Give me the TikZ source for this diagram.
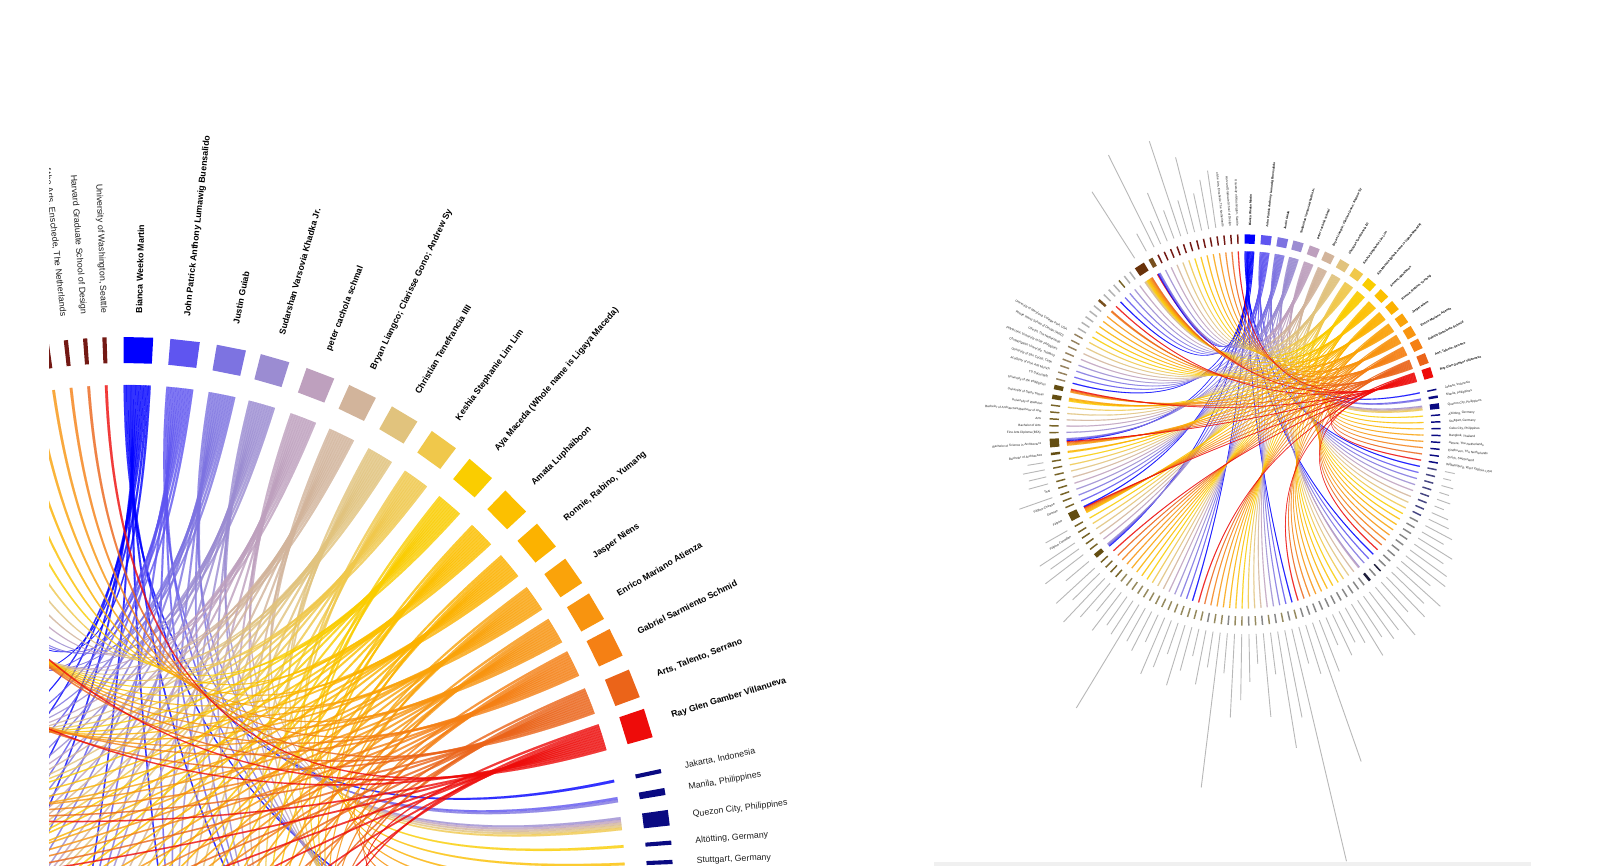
\documentclass[tikz,border=0pt]{standalone}
\usepackage{fontspec}
\setmainfont{Liberation Sans}
\definecolor{pc0}{RGB}{0,0,255}
\definecolor{pc1}{RGB}{95,85,240}
\definecolor{pc2}{RGB}{125,115,225}
\definecolor{pc3}{RGB}{155,140,210}
\definecolor{pc4}{RGB}{190,160,190}
\definecolor{pc5}{RGB}{210,180,155}
\definecolor{pc6}{RGB}{225,195,125}
\definecolor{pc7}{RGB}{240,200,75}
\definecolor{pc8}{RGB}{250,205,0}
\definecolor{pc9}{RGB}{252,192,0}
\definecolor{pc10}{RGB}{252,178,0}
\definecolor{pc11}{RGB}{250,163,10}
\definecolor{pc12}{RGB}{248,148,15}
\definecolor{pc13}{RGB}{245,128,20}
\definecolor{pc14}{RGB}{235,100,25}
\definecolor{pc15}{RGB}{238,12,10}
\definecolor{rloc}{RGB}{10,10,130}
\definecolor{ryr}{RGB}{70,70,130}
\definecolor{rgr}{RGB}{135,135,135}
\definecolor{rdk}{RGB}{30,30,60}
\definecolor{rkh}{RGB}{150,138,95}
\definecolor{rol}{RGB}{120,100,40}
\definecolor{rolb}{RGB}{100,78,18}
\definecolor{rtn}{RGB}{150,130,95}
\definecolor{rlg}{RGB}{178,178,178}
\definecolor{rbrn}{RGB}{120,80,30}
\definecolor{rdbr}{RGB}{105,50,10}
\definecolor{rmr}{RGB}{115,25,20}
\tikzset{
  lbl/.style={inner sep=0pt, font=\fontsize{8.8}{10}\selectfont, text=black!88},
  plbl/.style={inner sep=0pt, font=\fontsize{8.8}{10}\selectfont\bfseries, text=black},
}
\newcount\lidx
\newcount\nitems
\newcount\nlinks
\newcount\firstc
\newcount\leftp
\def\uu{0.3}
\def\pw{3.1}
\def\startang{12.0}
\def\endang{-267.85}
\def\pang{{88.6,83.7,78.8,74.1,69.1,64.3,59.3,54.4,49.5,44.5,39.7,35.0,30.6,26.3,21.6,17.2}}
\def\mitem#1#2#3#4{\global\advance\nitems by 1\relax\global\advance\nlinks by #1\relax}
\def\ditem#1#2#3#4{%
  \pgfmathsetmacro\qW{#1*\uu}%
  \ifnum\firstc=1\relax
    \xdef\qTh{\startang}\global\firstc=0\relax
  \else
    \pgfmathsetmacro\qT{\qTh-\qHalf-\padang-\qW/2}\xdef\qTh{\qT}%
  \fi
  \pgfmathsetmacro\qT{\qW/2}\xdef\qHalf{\qT}%
  \pgfmathsetmacro\qA{\qTh-\qW/2-0.07}%
  \pgfmathsetmacro\qB{\qTh+\qW/2+0.07}%
  \fill[#2] (\qA:522) -- (\qB:522) -- (\qB:548) -- (\qA:548) -- cycle;
  \pgfmathsetmacro\qN{\qTh<-180 ? \qTh+360 : \qTh}%
  \pgfmathtruncatemacro\qV{(\the\leftp==0) || (\qN>1.5 && \qN<99)}%
  \ifnum\qV=1\relax
  \ifcase#3\relax
  \or
    \pgfmathsetmacro\qR{572+#4}%
    \draw[line width=\phlw, black!28] (\qTh:572) -- (\qTh:\qR);
  \or
    \pgfmathsetmacro\qC{cos(\qTh)}%
    \ifdim\qC pt<0pt
      \pgfmathsetmacro\qR{\qTh+180}%
      \node[lbl, rotate=\qR, anchor=east] at (\qTh:572) {#4};
    \else
      \node[lbl, rotate=\qTh, anchor=west] at (\qTh:572) {#4};
    \fi
  \fi
  \fi
  \foreach \jj in {1,...,#1}{%
    \pgfmathtruncatemacro\qP{mod(\the\lidx,16)}%
    \pgfmathtruncatemacro\qS{\the\lidx/16}%
    \pgfmathsetmacro\qPh{\pang[\qP]}%
    \pgfmathsetmacro\qaO{\qPh+\pw/2-\qS*\slotw}%
    \pgfmathsetmacro\qaZ{\qaO-\slotw}%
    \pgfmathsetmacro\qbO{\qTh+\qW/2-(\jj-1)*\uu}%
    \pgfmathsetmacro\qbZ{\qbO-\uu}%
    \filldraw[fill=pc\qP, draw=pc\qP, line width=\rlw, fill opacity=0.8, draw opacity=0.6] (\qaZ:500) -- (\qaO:500) .. controls (\qaO:166.7) and (\qbZ:166.7) .. (\qbZ:500) -- (\qbO:500) .. controls (\qbO:166.7) and (\qaZ:166.7) .. (\qaZ:500) -- cycle;
    \global\advance\lidx by 1\relax
  }%
}
\def\ringlist{%
\ritem{1}{rloc}{2}{Jakarta, Indonesia}
\ritem{2}{rloc}{2}{Manila, Philippines}
\ritem{5}{rloc}{2}{Quezon City, Philippines}
\ritem{1}{rloc}{2}{Altötting, Germany}
\ritem{1}{rloc}{2}{Stuttgart, Germany}
\ritem{1}{rloc}{2}{Cebu City, Philippines}
\ritem{1}{rloc}{2}{Bangkok, Thailand}
\ritem{1}{rloc}{2}{Almere, The Netherlands}
\ritem{1}{rloc}{2}{Eindhoven, The Netherlands}
\ritem{1}{rloc}{2}{Zurich, Switzerland}
\ritem{1}{rloc}{2}{Williamsburg, West Virginia, USA}
\ritem{1}{ryr}{1}{28}
\ritem{1}{ryr}{1}{22}
\ritem{1}{ryr}{1}{34}
\ritem{1}{ryr}{1}{28}
\ritem{1}{ryr}{1}{39}
\ritem{1}{ryr}{1}{28}
\ritem{1}{ryr}{1}{50}
\ritem{1}{ryr}{1}{62}
\ritem{1}{rgr}{1}{84}
\ritem{1}{rgr}{1}{70}
\ritem{1}{rgr}{1}{112}
\ritem{1}{rgr}{1}{98}
\ritem{1}{rgr}{1}{126}
\ritem{1}{rgr}{1}{140}
\ritem{1}{rgr}{1}{106}
\ritem{1}{rgr}{1}{165}
\ritem{1}{rgr}{1}{126}
\ritem{1}{rdk}{1}{154}
\ritem{1}{rgr}{1}{112}
\ritem{2}{rdk}{1}{174}
\ritem{1}{rgr}{1}{134}
\ritem{1}{rgr}{1}{146}
\ritem{1}{rgr}{1}{123}
\ritem{1}{rgr}{1}{168}
\ritem{1}{rgr}{1}{112}
\ritem{1}{rgr}{1}{98}
\ritem{1}{rgr}{1}{126}
\ritem{1}{rgr}{1}{84}
\ritem{1}{rgr}{1}{154}
\ritem{1}{rgr}{1}{412}
\ritem{1}{rgr}{1}{143}
\ritem{1}{rkh}{1}{106}
\ritem{1}{rgr}{1}{669}
\ritem{1}{rkh}{1}{249}
\ritem{1}{rgr}{1}{330}
\ritem{1}{rkh}{1}{118}
\ritem{1}{rgr}{1}{235}
\ritem{1}{rkh}{1}{84}
\ritem{1}{rgr}{1}{134}
\ritem{1}{rkh}{1}{185}
\ritem{1}{rkh}{1}{235}
\ritem{1}{rgr}{1}{112}
\ritem{1}{rkh}{1}{437}
\ritem{1}{rkh}{1}{101}
\ritem{1}{rgr}{1}{154}
\ritem{1}{rkh}{1}{78}
\ritem{1}{rkh}{1}{126}
\ritem{1}{rkh}{1}{176}
\ritem{1}{rkh}{1}{92}
\ritem{1}{rkh}{1}{140}
\ritem{1}{rkh}{1}{171}
\ritem{1}{rkh}{1}{84}
\ritem{1}{rkh}{1}{123}
\ritem{1}{rkh}{1}{106}
\ritem{1}{rkh}{1}{339}
\ritem{1}{rkh}{1}{112}
\ritem{1}{rkh}{1}{98}
\ritem{1}{rkh}{1}{134}
\ritem{1}{rkh}{1}{84}
\ritem{1}{rol}{1}{126}
\ritem{1}{rol}{1}{168}
\ritem{1}{rol}{1}{106}
\ritem{1}{rol}{1}{146}
\ritem{4}{rolb}{1}{84}
\ritem{1}{rol}{1}{134}
\ritem{1}{rol}{1}{98}
\ritem{1}{rol}{1}{118}
\ritem{1}{rol}{2}{Filipino-Canadian}
\ritem{1}{rol}{1}{70}
\ritem{8}{rolb}{2}{Filipino}
\ritem{1}{rol}{2}{German}
\ritem{1}{rol}{2}{Filipino-Chinese}
\ritem{1}{rol}{1}{98}
\ritem{1}{rol}{2}{Thai}
\ritem{1}{rol}{1}{56}
\ritem{1}{rol}{1}{50}
\ritem{1}{rol}{1}{62}
\ritem{1}{rol}{1}{45}
\ritem{2}{rolb}{2}{Bachelor of Architecture}
\ritem{8}{rolb}{2}{Bachelor of Science in Architecture}
\ritem{1}{rol}{2}{Fine Arts Diploma (BFA)}
\ritem{1}{rol}{2}{Bachelor of Arts}
\ritem{1}{rol}{2}{Arts}
\ritem{1}{rol}{2}{Bachelor of Architecture/Bachelor of Arts}
\ritem{1}{rol}{2}{University of Waterloo}
\ritem{4}{rolb}{2}{University of Santo Tomas}
\ritem{4}{rolb}{2}{University of the Philippines}
\ritem{1}{rtn}{2}{TU Darmstadt}
\ritem{1}{rtn}{2}{Academy of Fine Arts Munich}
\ritem{1}{rtn}{2}{University of San Carlos, Cebu}
\ritem{1}{rtn}{2}{Chulalongkorn University, Thailand}
\ritem{1}{rtn}{2}{Polytechnic University of the Philippines}
\ritem{1}{rtn}{2}{Utrecht, The Netherlands}
\ritem{1}{rtn}{2}{Rhode Island School of Design (RISD)}
\ritem{1}{rtn}{2}{University of Maryland, College Park, USA}
\ritem{1}{rlg}{0}{}
\ritem{1}{rlg}{0}{}
\ritem{1}{rlg}{0}{}
\ritem{1}{rlg}{0}{}
\ritem{1}{rlg}{0}{}
\ritem{2}{rbrn}{0}{}
\ritem{1}{rlg}{0}{}
\ritem{1}{rlg}{0}{}
\ritem{1}{rlg}{0}{}
\ritem{1}{rol}{0}{}
\ritem{1}{rlg}{0}{}
\ritem{1}{rlg}{0}{}
\ritem{10}{rdbr}{1}{221}
\ritem{4}{rbrn}{1}{56}
\ritem{1}{rmr}{1}{288}
\ritem{1}{rmr}{1}{70}
\ritem{1}{rmr}{1}{146}
\ritem{1}{rmr}{1}{84}
\ritem{1}{rmr}{1}{280}
\ritem{1}{rmr}{1}{98}
\ritem{1}{rmr}{1}{216}
\ritem{1}{rmr}{1}{106}
\ritem{1}{rmr}{1}{140}
\ritem{1}{rmr}{1}{162}
\ritem{1}{rmr}{2}{of the Arts, Enschede, The Netherlands}
\ritem{1}{rmr}{2}{Harvard Graduate School of Design}
\ritem{1}{rmr}{2}{University of Washington, Seattle}
}
\def\drawdiagram{%
  \global\lidx=0\relax
  \global\firstc=1\relax
  \let\ritem\ditem
  \ringlist
  \foreach \i/\nm in {0/Bianca Weeko Martin, 1/John Patrick Anthony Lumawig Buensalido, 2/Justin Guiab, 3/Sudarshan Varsovia Khadka Jr., 4/peter cachola schmal, 5/{Bryan Liangco; Clarisse Gono; Andrew Sy}, 6/Christian Tenefrancia IIII, 7/Keshia Stephanie Lim Lim, 8/Aya Maceda (Whole name is Ligaya Maceda), 9/Amata Luphaiboon, 10/{Ronnie, Rabino, Yumang}, 11/Jasper Niens, 12/Enrico Mariano Atienza, 13/Gabriel Sarmiento Schmid, 14/{Arts, Talento, Serrano}, 15/Ray Glen Gamber Villanueva}{%
    \pgfmathsetmacro\qPh{\pang[\i]}%
    \pgfmathsetmacro\qA{\qPh-\pw/2}%
    \pgfmathsetmacro\qB{\qPh+\pw/2}%
    \fill[pc\i] (\qA:522) -- (\qB:522) -- (\qB:548) -- (\qA:548) -- cycle;
    \node[plbl, rotate=\qPh, anchor=west] (person\i) at (\qPh:572) {\nm};
  }%
}
\begin{document}
\begin{tikzpicture}[x=1pt, y=1pt]
\useasboundingbox (0,0) rectangle (1600,866);
\fill[white] (0,0) rectangle (1600,866);
% measuring pass
\global\nitems=0\relax
\global\nlinks=0\relax
\let\ritem\mitem
\ringlist
\pgfmathsetmacro\padang{(\startang-(\endang)-\uu*(\the\nlinks-1))/(\the\nitems-1)}
\pgfmathtruncatemacro\Lper{ceil(\the\nlinks/16)}
\pgfmathsetmacro\slotw{\pw/\Lper}
% left, enlarged view
\begin{scope}
  \clip (49,0) rectangle (905,866);
  \begin{scope}[shift={(125,-19)}]
    \global\leftp=1\relax
    \def\phlw{4pt}
    \def\rlw{0.25pt}
    \drawdiagram
  \end{scope}
\end{scope}
% right, whole diagram
\begin{scope}[shift={(1245,436)}, scale=0.357, transform shape]
  \global\leftp=0\relax
  \def\phlw{0.9pt}
  \def\rlw{0.35pt}
  \drawdiagram
\end{scope}
\fill[black!6] (934,0) rectangle (1531,3.5);
\end{tikzpicture}
\end{document}
